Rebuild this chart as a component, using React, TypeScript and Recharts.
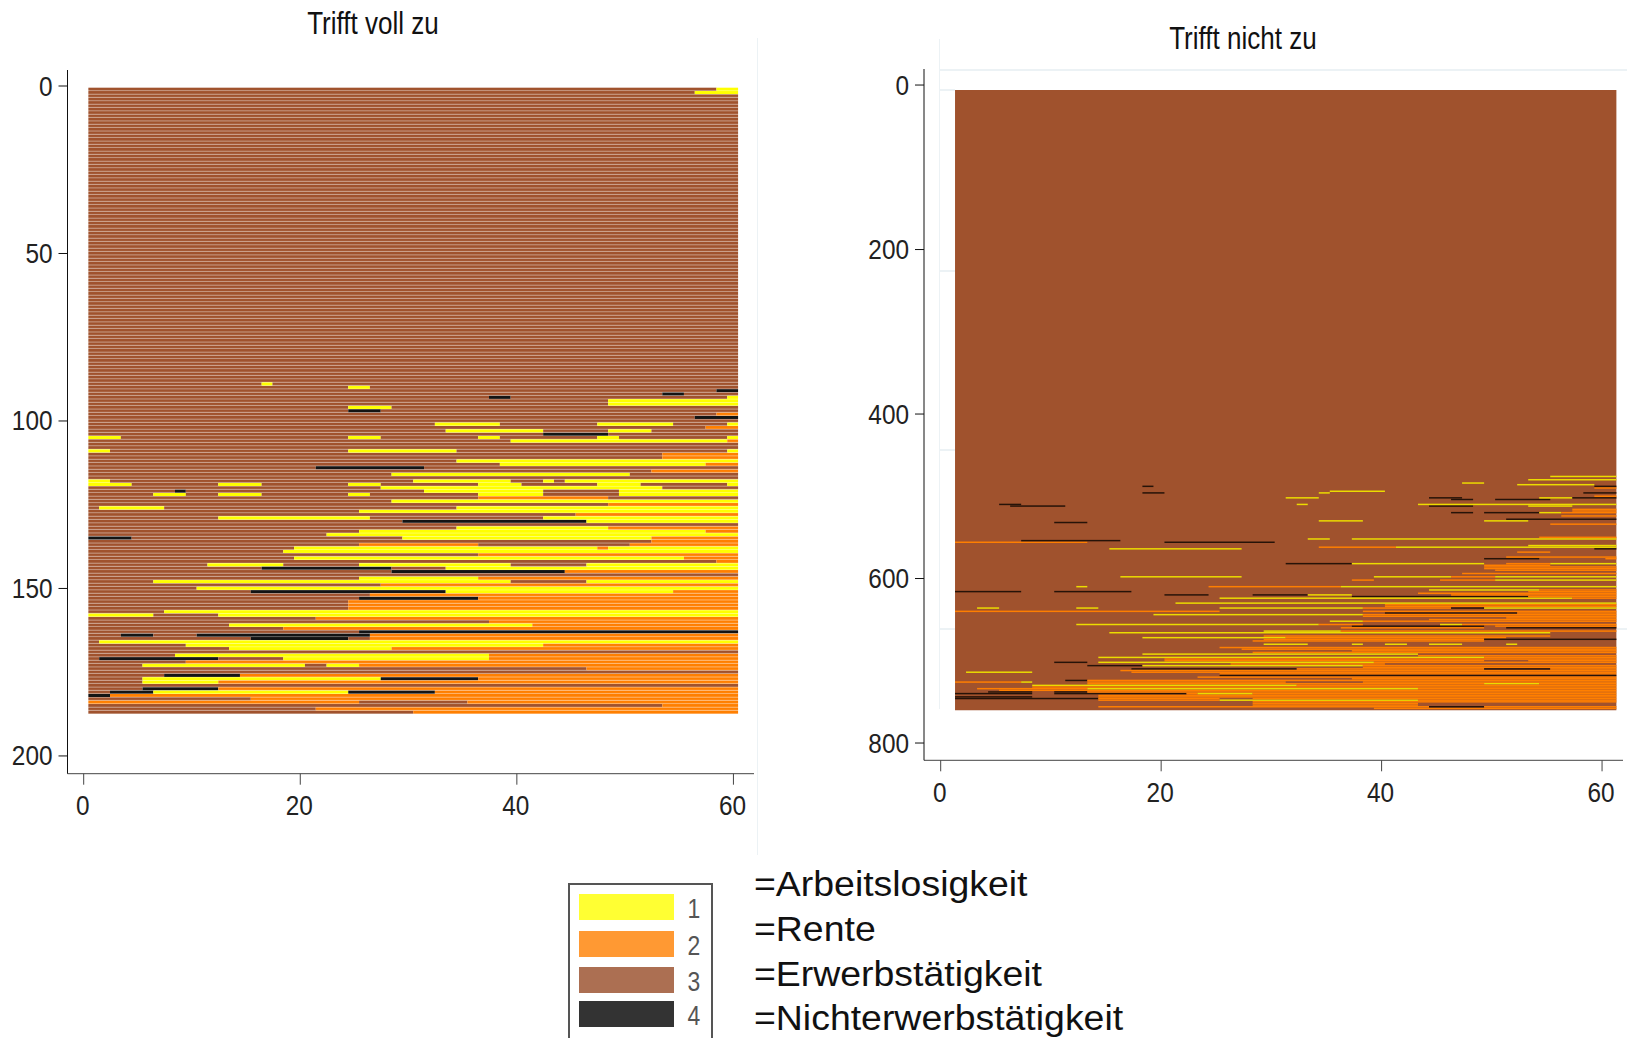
import { Bar, BarChart, ReferenceArea, XAxis, YAxis } from 'recharts'

type State = 'Y' | 'O' | 'B' | 'K'
type Run = [number, State, number, number]

const leftColors: Record<string, string> = { Y: '#ffff00', O: '#ff7f00', B: '#a0522d', K: '#141414', none: 'none' }
const rightColors: Record<string, string> = { Y: '#ecdc00', O: '#ff7f00', B: '#a0522d', K: '#261308', none: 'none' }

const xTicks = [0, 20, 40, 60]
const leftYTicks = [0, 50, 100, 150, 200]
const rightYTicks = [0, 200, 400, 600, 800]
const leftRowCount = 187
const monthCount = 60

// row, state, first month boundary, last month boundary. Everything else in a row is employment (brown).
const leftRuns: Run[] = [
    [1, 'Y', 58, 60], [2, 'Y', 56, 60],
    [89, 'Y', 16, 17], [90, 'Y', 24, 26], [91, 'K', 58, 60], [92, 'K', 53, 55], [93, 'K', 37, 39], [93, 'Y', 59, 60],
    [94, 'Y', 48, 60], [95, 'Y', 48, 60], [96, 'Y', 24, 28], [97, 'K', 24, 27], [98, 'O', 58, 60], [99, 'K', 56, 60],
    [101, 'Y', 32, 38], [101, 'Y', 47, 54], [101, 'Y', 59, 60], [102, 'O', 57, 60],
    [103, 'Y', 33, 42], [103, 'Y', 48, 52], [104, 'K', 42, 48],
    [105, 'Y', 0, 3], [105, 'Y', 24, 27], [105, 'Y', 36, 38], [105, 'Y', 47, 49], [105, 'Y', 59, 60],
    [106, 'Y', 39, 59], [106, 'O', 59, 60],
    [109, 'Y', 0, 2], [109, 'Y', 24, 34], [109, 'Y', 59, 60], [110, 'O', 53, 60], [111, 'O', 53, 60],
    [112, 'Y', 34, 60], [113, 'Y', 38, 57], [113, 'O', 57, 60], [114, 'K', 21, 31], [115, 'O', 52, 60], [116, 'Y', 28, 50],
    [118, 'Y', 0, 2], [118, 'Y', 30, 39], [118, 'Y', 42, 43], [118, 'Y', 44, 60],
    [119, 'Y', 0, 4], [119, 'Y', 12, 16], [119, 'Y', 24, 27], [119, 'Y', 36, 40], [119, 'Y', 47, 51], [119, 'Y', 59, 60],
    [120, 'Y', 27, 53], [121, 'K', 8, 9], [121, 'Y', 31, 42], [121, 'Y', 49, 60],
    [122, 'Y', 6, 9], [122, 'Y', 12, 16], [122, 'Y', 24, 26], [122, 'Y', 36, 42], [122, 'Y', 49, 60],
    [123, 'O', 36, 48], [124, 'Y', 28, 60], [125, 'O', 48, 60],
    [126, 'Y', 1, 7], [126, 'Y', 34, 60], [127, 'Y', 25, 60], [128, 'O', 45, 60],
    [129, 'Y', 12, 26], [129, 'Y', 42, 60], [130, 'K', 29, 46], [130, 'Y', 46, 60],
    [132, 'Y', 34, 48], [132, 'O', 48, 60], [133, 'Y', 25, 57], [133, 'O', 57, 60], [134, 'Y', 22, 60],
    [135, 'K', 0, 4], [135, 'Y', 29, 52], [135, 'O', 52, 60], [136, 'O', 52, 60],
    [137, 'O', 25, 36], [137, 'O', 50, 60],
    [138, 'Y', 19, 47], [138, 'O', 47, 48], [138, 'Y', 48, 60], [139, 'Y', 18, 60], [140, 'O', 36, 60],
    [141, 'Y', 19, 55], [141, 'O', 55, 60], [142, 'O', 58, 60],
    [143, 'Y', 11, 18], [143, 'Y', 25, 39], [143, 'Y', 46, 60],
    [144, 'K', 16, 28], [144, 'Y', 33, 60], [145, 'K', 28, 44], [145, 'O', 44, 60],
    [147, 'Y', 25, 36], [147, 'O', 36, 60], [148, 'Y', 6, 39], [148, 'Y', 46, 60], [149, 'O', 27, 60],
    [150, 'Y', 10, 60], [151, 'K', 15, 33], [151, 'Y', 33, 54], [151, 'O', 54, 60], [152, 'O', 26, 60],
    [153, 'K', 25, 36], [153, 'O', 36, 60], [154, 'O', 24, 60], [155, 'O', 24, 60], [156, 'O', 24, 60],
    [157, 'Y', 7, 60], [158, 'Y', 0, 6], [158, 'Y', 12, 60], [159, 'O', 21, 60], [160, 'O', 37, 60],
    [161, 'Y', 13, 41], [161, 'O', 41, 60], [162, 'O', 18, 60], [163, 'K', 25, 60],
    [164, 'K', 3, 6], [164, 'K', 10, 26], [164, 'O', 26, 60], [165, 'K', 15, 24], [165, 'O', 26, 60],
    [166, 'Y', 1, 60], [167, 'Y', 9, 42], [167, 'O', 42, 60], [168, 'Y', 13, 28], [168, 'O', 28, 60],
    [170, 'Y', 8, 37], [170, 'O', 37, 60], [171, 'K', 1, 12], [171, 'Y', 18, 37], [171, 'O', 37, 60],
    [172, 'O', 9, 60], [173, 'Y', 5, 20], [173, 'Y', 22, 25], [173, 'O', 25, 60], [174, 'O', 46, 60],
    [176, 'K', 7, 14], [176, 'O', 14, 60], [177, 'Y', 5, 27], [177, 'K', 27, 36], [177, 'O', 36, 60],
    [178, 'Y', 5, 12], [178, 'O', 12, 60], [180, 'K', 5, 12], [180, 'O', 12, 60],
    [181, 'K', 2, 6], [181, 'Y', 6, 24], [181, 'K', 24, 32], [181, 'O', 32, 60], [182, 'K', 0, 2], [182, 'O', 2, 60],
    [183, 'O', 15, 60], [184, 'O', 0, 25], [184, 'O', 35, 60], [185, 'O', 53, 60], [186, 'O', 21, 60], [187, 'O', 30, 60],
]

const rightRuns: Run[] = [
    [476, 'Y', 54, 60], [480, 'Y', 52, 60], [484, 'Y', 46, 48], [486, 'Y', 51, 58], [488, 'K', 17, 18], [488, 'K', 58, 60],
    [490, 'O', 58, 60], [494, 'Y', 34, 39], [496, 'K', 17, 19], [496, 'Y', 33, 34], [496, 'K', 57, 60], [500, 'O', 58, 60],
    [502, 'Y', 30, 33], [502, 'K', 43, 46], [502, 'Y', 53, 56], [502, 'K', 56, 60], [504, 'K', 45, 47], [504, 'K', 49, 54],
    [510, 'K', 4, 6], [510, 'Y', 31, 32], [510, 'Y', 42, 60], [512, 'K', 5, 10], [512, 'K', 43, 47], [512, 'Y', 52, 56],
    [516, 'O', 56, 60], [518, 'O', 56, 60], [520, 'K', 45, 47], [520, 'K', 48, 53], [520, 'Y', 53, 55], [520, 'O', 55, 60],
    [524, 'O', 55, 60], [528, 'K', 50, 60], [530, 'Y', 33, 37], [530, 'Y', 48, 52], [532, 'K', 9, 12], [534, 'O', 54, 60],
    [550, 'O', 53, 60], [552, 'Y', 32, 34], [552, 'Y', 36, 60], [554, 'K', 6, 15], [556, 'O', 0, 12], [556, 'K', 19, 29],
    [560, 'Y', 52, 60], [562, 'O', 33, 40], [562, 'Y', 40, 60], [564, 'Y', 14, 26], [564, 'K', 58, 60], [568, 'O', 51, 54],
    [574, 'O', 50, 60], [576, 'K', 48, 53], [576, 'O', 59, 60],
    [582, 'K', 30, 36], [582, 'Y', 36, 48], [582, 'O', 50, 54], [582, 'Y', 54, 60],
    [584, 'O', 48, 54], [586, 'O', 48, 60], [588, 'O', 48, 60], [590, 'O', 49, 60], [594, 'O', 46, 60],
    [598, 'Y', 15, 26], [598, 'Y', 38, 45], [598, 'O', 45, 49], [598, 'Y', 49, 60],
    [602, 'O', 36, 38], [602, 'O', 44, 49], [602, 'Y', 49, 60],
    [610, 'Y', 11, 12], [610, 'O', 23, 35], [610, 'Y', 35, 60], [614, 'Y', 43, 53], [614, 'O', 53, 60],
    [616, 'K', 0, 6], [616, 'K', 9, 16], [616, 'O', 52, 60], [618, 'O', 42, 60],
    [620, 'K', 19, 23], [620, 'K', 27, 32], [620, 'Y', 32, 36], [620, 'O', 45, 60],
    [622, 'K', 36, 52], [622, 'O', 52, 60], [624, 'Y', 24, 56], [624, 'O', 56, 60],
    [630, 'Y', 20, 60], [632, 'O', 39, 60], [634, 'O', 39, 60],
    [636, 'Y', 2, 4], [636, 'Y', 11, 13], [636, 'Y', 24, 37], [636, 'O', 37, 45], [636, 'K', 45, 48], [636, 'Y', 48, 60],
    [640, 'O', 0, 24], [640, 'O', 37, 60], [642, 'K', 39, 51], [642, 'O', 51, 60], [644, 'Y', 18, 37], [644, 'O', 37, 60],
    [646, 'O', 37, 60], [648, 'O', 50, 60], [650, 'O', 43, 60], [652, 'Y', 34, 37], [652, 'O', 37, 60],
    [656, 'Y', 11, 33], [656, 'O', 33, 37], [656, 'Y', 44, 46], [656, 'O', 46, 60],
    [658, 'K', 36, 48], [658, 'O', 49, 60], [660, 'O', 35, 48], [660, 'K', 50, 60],
    [664, 'Y', 28, 35], [664, 'O', 35, 60], [666, 'Y', 14, 54], [670, 'O', 28, 54],
    [672, 'Y', 17, 30], [672, 'O', 30, 50], [674, 'O', 28, 48], [674, 'K', 48, 60], [676, 'O', 27, 48],
    [680, 'Y', 28, 32], [680, 'Y', 36, 37], [680, 'Y', 39, 41], [680, 'Y', 43, 46], [680, 'Y', 50, 51],
    [684, 'O', 24, 60], [686, 'O', 26, 60], [688, 'O', 36, 60], [690, 'O', 27, 60], [692, 'Y', 17, 42], [694, 'O', 42, 60],
    [696, 'Y', 13, 48], [696, 'O', 48, 60], [698, 'O', 19, 60], [700, 'O', 19, 48], [700, 'O', 52, 60],
    [702, 'K', 9, 12], [702, 'Y', 13, 38], [702, 'O', 38, 60], [704, 'O', 25, 39],
    [706, 'K', 12, 17], [706, 'Y', 17, 37], [706, 'O', 37, 60], [708, 'O', 37, 60],
    [710, 'K', 16, 31], [710, 'O', 31, 48], [710, 'K', 48, 54], [710, 'O', 54, 60],
    [712, 'O', 15, 60], [714, 'Y', 1, 7], [714, 'O', 16, 60], [716, 'O', 24, 60], [718, 'K', 24, 60],
    [720, 'O', 22, 60], [722, 'O', 36, 60], [724, 'K', 10, 12], [724, 'O', 12, 60],
    [726, 'O', 0, 6], [726, 'Y', 6, 7], [726, 'O', 12, 30], [726, 'O', 37, 60],
    [728, 'O', 12, 48], [728, 'Y', 48, 53], [728, 'O', 53, 60], [730, 'Y', 7, 31], [730, 'O', 31, 60], [732, 'O', 7, 60],
    [734, 'O', 2, 12], [734, 'Y', 12, 42], [734, 'O', 42, 60], [736, 'O', 4, 60],
    [738, 'K', 3, 7], [738, 'K', 9, 12], [738, 'O', 12, 60],
    [740, 'K', 0, 7], [740, 'K', 9, 21], [740, 'O', 21, 22], [740, 'Y', 22, 27], [740, 'O', 27, 60],
    [742, 'O', 13, 60], [744, 'K', 0, 7], [744, 'O', 13, 60], [746, 'K', 0, 13], [746, 'O', 13, 24], [746, 'O', 27, 60],
    [748, 'O', 13, 24], [748, 'Y', 24, 42], [748, 'O', 42, 60], [750, 'O', 27, 60], [752, 'O', 27, 42], [754, 'O', 27, 42],
    [756, 'O', 13, 43], [756, 'K', 43, 48], [756, 'O', 48, 60], [758, 'O', 38, 60],
]

const legendItems = [
    { key: '1', color: '#ffff33', label: '=Arbeitslosigkeit' },
    { key: '2', color: '#ff9933', label: '=Rente' },
    { key: '3', color: '#ac6f52', label: '=Erwerbstätigkeit' },
    { key: '4', color: '#333333', label: '=Nichterwerbstätigkeit' },
]

// turn the runs of each row into stack pieces: pad, d0, d1 ... with state s0, s1 ...
function buildRows(rows: number[], runs: Run[], start: number, gap: string) {
    let maxPieces = 0
    const table = rows.map((row) => {
        const entry: Record<string, number | string> = { row, pad: start }
        const own = runs.filter((r) => r[0] === row).sort((a, b) => a[2] - b[2])
        let cursor = 0
        let n = 0
        const push = (state: string, len: number) => {
            entry[`d${n}`] = len
            entry[`s${n}`] = state
            n += 1
        }
        own.forEach((r) => {
            if (r[2] > cursor) push(gap, r[2] - cursor)
            push(r[1], r[3] - r[2])
            cursor = r[3]
        })
        if (cursor < monthCount && gap !== 'none') push(gap, monthCount - cursor)
        maxPieces = Math.max(maxPieces, n)
        return entry
    })
    table.forEach((entry) => {
        for (let i = 0; i < maxPieces; i += 1) {
            if (entry[`d${i}`] === undefined) {
                entry[`d${i}`] = 0
                entry[`s${i}`] = 'none'
            }
        }
    })
    return { table, maxPieces }
}

const leftRows = Array.from({ length: leftRowCount }, (_, i) => i + 1)
const rightRows = Array.from(new Set(rightRuns.map((r) => r[0])))
const left = buildRows(leftRows, leftRuns, 0.43, 'B')
const right = buildRows(rightRows, rightRuns, 1.3, 'none')

function pieceShape(index: number, colors: Record<string, string>, striped: boolean) {
    return function Piece(props: any) {
        const state = props.payload?.[`s${index}`] ?? 'none'
        if (state === 'none' || !(props.width > 0)) return <g />
        return (
            <g>
                <rect x={props.x} y={props.y} width={props.width} height={props.height} fill={colors[state]} />
                {striped && (state === 'B' || state === 'O') && (
                    <rect x={props.x} y={props.y + props.height - 0.8} width={props.width} height={0.8} fill="#ffffff" fillOpacity={0.15} />
                )}
            </g>
        )
    }
}

const FONT = '"Liberation Sans", Arial, sans-serif'

function YTick({ x, y, payload }: any) {
    return (
        <text transform={`translate(${x},${y + 9.5}) scale(0.87,1)`} textAnchor="end" fontSize={28} fontFamily={FONT} fill="#222">
            {payload.value}
        </text>
    )
}

function XTick({ x, y, payload }: any) {
    return (
        <text transform={`translate(${x - 1},${y + 18.5}) scale(0.87,1)`} textAnchor="middle" fontSize={28} fontFamily={FONT} fill="#222">
            {payload.value}
        </text>
    )
}

function renderBars(count: number, colors: Record<string, string>, striped: boolean) {
    const bars = [<Bar key="pad" dataKey="pad" stackId="seq" fill="none" isAnimationActive={false} />]
    for (let i = 0; i < count; i += 1) {
        bars.push(<Bar key={i} dataKey={`d${i}`} stackId="seq" shape={pieceShape(i, colors, striped)} isAnimationActive={false} />)
    }
    return bars
}

function Title({ x, y, children }: { x: number; y: number; children: string }) {
    return (
        <div style={{ position: 'absolute', left: x - 200, top: y - 20, width: 400, height: 40, lineHeight: '40px', textAlign: 'center', fontFamily: FONT, fontSize: 31, color: '#111', transform: 'scaleX(0.84)' }}>
            {children}
        </div>
    )
}

function Faint({ x, y, w, h }: { x: number; y: number; w: number; h: number }) {
    return <div style={{ position: 'absolute', left: x, top: y, width: w, height: h, background: '#ecf2f5' }} />
}

export default function App() {
    return (
        <div style={{ position: 'absolute', left: 0, top: 0, width: 1627, height: 1038, overflow: 'hidden', background: '#fff' }}>
            <Faint x={757} y={38} w={1} h={817} />
            <Faint x={939} y={39} w={1} h={670} />
            <Faint x={939} y={69} w={688} h={2} />
            <Faint x={939} y={89} w={16} h={2} />
            <Faint x={939} y={270} w={16} h={2} />
            <Faint x={939} y={449} w={16} h={2} />
            <Faint x={939} y={628} w={16} h={2} />
            <Faint x={1617} y={628} w={10} h={2} />

            <Title x={373} y={24}>Trifft voll zu</Title>
            <Title x={1243} y={39}>Trifft nicht zu</Title>

            <div style={{ position: 'absolute', left: 0, top: 0 }}>
                <BarChart width={800} height={860} data={left.table} layout="vertical" barSize={3.35} margin={{ top: 70, right: 46, bottom: 26.3, left: 0 }}>
                    <XAxis type="number" domain={[-1.496, 61.9]} ticks={xTicks} allowDataOverflow stroke="#444" tickSize={11} tickMargin={12} height={60} tick={<XTick />} />
                    <YAxis type="number" dataKey="row" domain={[-4.78, 205.3]} ticks={leftYTicks} allowDataOverflow stroke="#111" tickSize={9} tickMargin={6} width={67.5} tick={<YTick />} />
                    {renderBars(left.maxPieces, leftColors, true)}
                </BarChart>
            </div>

            <div style={{ position: 'absolute', left: 860, top: 0 }}>
                <BarChart width={767} height={860} data={right.table} layout="vertical" barSize={1.7} margin={{ top: 69, right: 4, bottom: 39.7, left: 0 }}>
                    <XAxis type="number" domain={[-1.515, 61.9]} ticks={xTicks} allowDataOverflow stroke="#444" tickSize={11} tickMargin={12} height={60} tick={<XTick />} />
                    <YAxis type="number" dataKey="row" domain={[-19.5, 821]} ticks={rightYTicks} allowDataOverflow stroke="#111" tickSize={9} tickMargin={6} width={64} tick={<YTick />} />
                    <ReferenceArea x1={1.3} x2={61.3} y1={6} y2={760} fill="#a0522d" fillOpacity={1} stroke="none" />
                    {renderBars(right.maxPieces, rightColors, false)}
                </BarChart>
            </div>

            <div style={{ position: 'absolute', left: 568, top: 883, width: 145, height: 170, border: '2px solid #555', boxSizing: 'border-box' }} />
            {legendItems.map((item, i) => {
                const tops = [894, 931, 967, 1001]
                const baselines = [896, 941, 986, 1030]
                return (
                    <div key={item.key}>
                        <div style={{ position: 'absolute', left: 579, top: tops[i], width: 95, height: 26, background: item.color }} />
                        <div style={{ position: 'absolute', left: 683, top: tops[i] + 1, width: 22, height: 28, lineHeight: '28px', textAlign: 'center', fontFamily: FONT, fontSize: 27, color: '#555', transform: 'scaleX(0.85)' }}>{item.key}</div>
                        <div style={{ position: 'absolute', left: 754, top: baselines[i] - 33, lineHeight: '42px', fontFamily: FONT, fontSize: 35, color: '#111', whiteSpace: 'nowrap', transformOrigin: 'left center', transform: 'scaleX(1.069)' }}>{item.label}</div>
                    </div>
                )
            })}
        </div>
    )
}
